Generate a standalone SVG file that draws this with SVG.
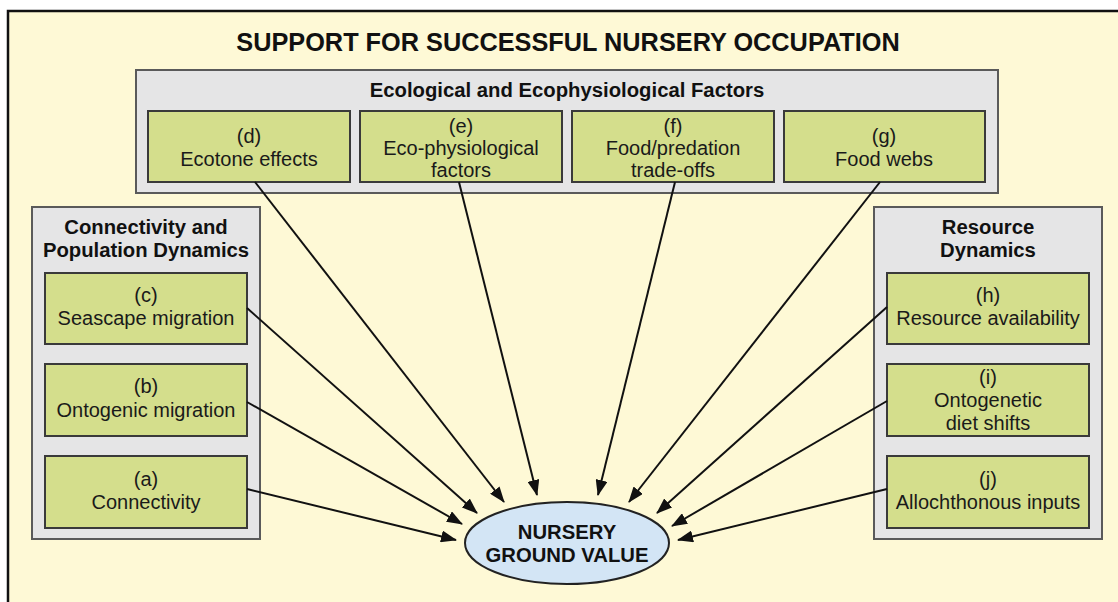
<svg xmlns="http://www.w3.org/2000/svg" width="1118" height="602" viewBox="0 0 1118 602">
<defs>
<style>
.panel{fill:#e5e5e6;stroke:#5a5a5a;stroke-width:2}
.box{fill:#d4de8c;stroke:#3a3a3a;stroke-width:2}
.t{font-family:"Liberation Sans",Arial,sans-serif;font-size:20px;fill:#1a1a1a;text-anchor:middle}
.b{font-family:"Liberation Sans",Arial,sans-serif;font-size:20.3px;font-weight:bold;fill:#111;text-anchor:middle}
.edge{stroke:#111;stroke-width:2;fill:none;marker-end:url(#ah)}
</style>
<marker id="ah" markerUnits="userSpaceOnUse" markerWidth="16" markerHeight="12" refX="15" refY="6" orient="auto">
<path d="M0,0 L16,6 L0,12 z" fill="#111"/>
</marker>
</defs>
<rect x="0" y="0" width="1118" height="602" fill="#ffffff"/>
<rect x="8" y="11" width="1130" height="610" fill="#fef9d6" stroke="#111" stroke-width="2.5"/>
<text class="b" x="568" y="51" style="font-size:25.3px">SUPPORT FOR SUCCESSFUL NURSERY OCCUPATION</text>

<g id="panel-ecological">
<rect class="panel" x="136" y="70" width="862" height="123"/>
<text class="b" x="567" y="97">Ecological and Ecophysiological Factors</text>
</g>
<g id="node-d">
<rect class="box" x="148" y="111" width="202" height="71"/>
<text class="t" x="249" y="143">(d)</text>
<text class="t" x="249" y="166">Ecotone effects</text>
</g>
<g id="node-e">
<rect class="box" x="360" y="111" width="202" height="71"/>
<text class="t" x="461" y="133">(e)</text>
<text class="t" x="461" y="155">Eco-physiological</text>
<text class="t" x="461" y="177">factors</text>
</g>
<g id="node-f">
<rect class="box" x="572" y="111" width="202" height="71"/>
<text class="t" x="673" y="133">(f)</text>
<text class="t" x="673" y="155">Food/predation</text>
<text class="t" x="673" y="177">trade-offs</text>
</g>
<g id="node-g">
<rect class="box" x="784" y="111" width="201" height="71"/>
<text class="t" x="884" y="143">(g)</text>
<text class="t" x="884" y="166">Food webs</text>
</g>

<g id="panel-connectivity">
<rect class="panel" x="32" y="207" width="228" height="332"/>
<text class="b" x="146" y="234">Connectivity and</text>
<text class="b" x="146" y="257">Population Dynamics</text>
</g>
<g id="node-c">
<rect class="box" x="45" y="273" width="202" height="71"/>
<text class="t" x="146" y="302">(c)</text>
<text class="t" x="146" y="325">Seascape migration</text>
</g>
<g id="node-b">
<rect class="box" x="45" y="364" width="202" height="72"/>
<text class="t" x="146" y="393">(b)</text>
<text class="t" x="146" y="417">Ontogenic migration</text>
</g>
<g id="node-a">
<rect class="box" x="45" y="456" width="202" height="72"/>
<text class="t" x="146" y="486">(a)</text>
<text class="t" x="146" y="509">Connectivity</text>
</g>

<g id="panel-resource">
<rect class="panel" x="874" y="207" width="228" height="332"/>
<text class="b" x="988" y="234">Resource</text>
<text class="b" x="988" y="257">Dynamics</text>
</g>
<g id="node-h">
<rect class="box" x="887" y="273" width="202" height="71"/>
<text class="t" x="988" y="302">(h)</text>
<text class="t" x="988" y="325">Resource availability</text>
</g>
<g id="node-i">
<rect class="box" x="887" y="364" width="202" height="72"/>
<text class="t" x="988" y="384">(i)</text>
<text class="t" x="988" y="407">Ontogenetic</text>
<text class="t" x="988" y="430">diet shifts</text>
</g>
<g id="node-j">
<rect class="box" x="887" y="456" width="202" height="72"/>
<text class="t" x="988" y="486">(j)</text>
<text class="t" x="988" y="509">Allochthonous inputs</text>
</g>

<g id="node-nursery">
<ellipse cx="567" cy="543" rx="102" ry="41" fill="#d3e5f5" stroke="#222" stroke-width="2"/>
<text class="b" x="567" y="539">NURSERY</text>
<text class="b" x="567" y="562">GROUND VALUE</text>
</g>

<g id="connectors">
<line class="edge" x1="247" y1="489" x2="456" y2="540"/>
<line class="edge" x1="247" y1="402" x2="462" y2="524"/>
<line class="edge" x1="247" y1="308" x2="477" y2="513"/>
<line class="edge" x1="255" y1="182" x2="504" y2="502"/>
<line class="edge" x1="459" y1="182" x2="537" y2="495"/>
<line class="edge" x1="675" y1="182" x2="598" y2="495"/>
<line class="edge" x1="880" y1="182" x2="629" y2="502"/>
<line class="edge" x1="887" y1="307" x2="657" y2="513"/>
<line class="edge" x1="887" y1="401" x2="672" y2="526"/>
<line class="edge" x1="887" y1="489" x2="678" y2="540"/>
</g>
</svg>
